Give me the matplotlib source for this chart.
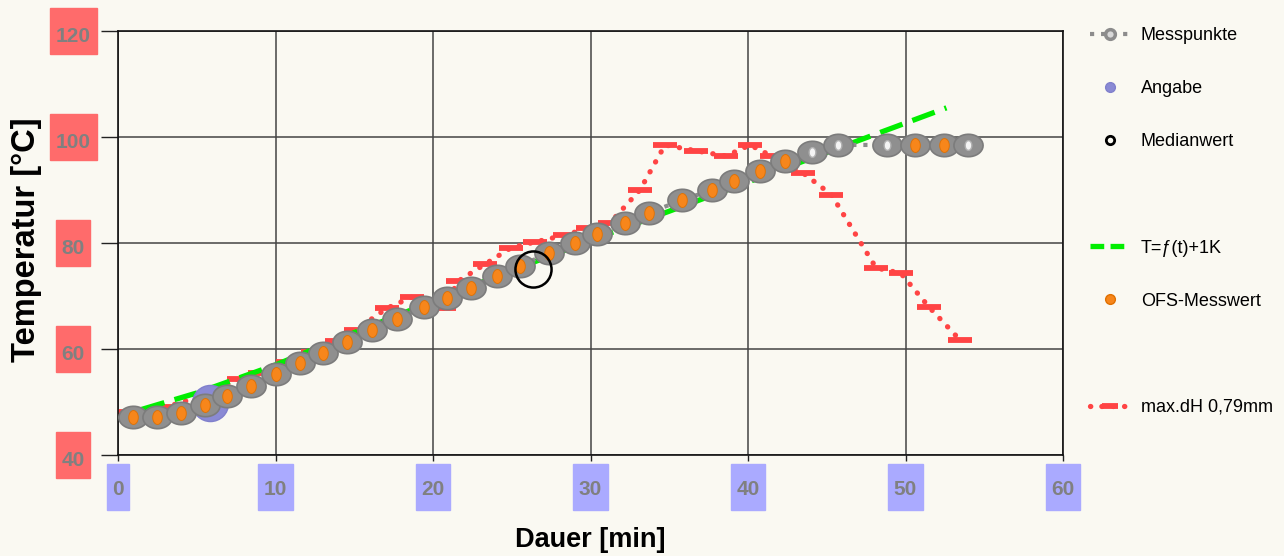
import matplotlib
matplotlib.use("Agg")
import matplotlib.pyplot as plt
from matplotlib.lines import Line2D
from matplotlib.patches import Rectangle
from matplotlib.path import Path
import numpy as np

plt.rcParams['font.family'] = ['Liberation Sans', 'DejaVu Sans']

# Messpunkte (Dauer [min], Temperatur [°C])
mess_x = [0.95, 2.48, 4.0, 5.52, 6.92, 8.44, 10.03, 11.56, 13.02, 14.54, 16.13,
          17.71, 19.43, 20.89, 22.41, 24.06, 25.52, 27.37, 29.02, 30.41, 32.19,
          33.71, 35.81, 37.71, 39.11, 40.76, 42.35, 44.06, 45.71, 48.83, 50.6,
          52.44, 53.97]
mess_y = [47.2, 47.2, 47.9, 49.4, 51.1, 53.0, 55.3, 57.4, 59.2, 61.3, 63.6,
          65.7, 67.9, 69.6, 71.5, 73.8, 75.7, 78.1, 80.0, 81.7, 83.8,
          85.7, 88.1, 90.0, 91.7, 93.6, 95.5, 97.2, 98.5, 98.5, 98.5,
          98.5, 98.5]

# OFS-Messwert (Messpunkte mit Messwert)
ofs_x = [0.95, 2.48, 4.0, 5.52, 6.92, 8.44, 10.03, 11.56, 13.02, 14.54, 16.13,
         17.71, 19.43, 20.89, 22.41, 24.06, 25.52, 27.37, 29.02, 30.41, 32.19,
         33.71, 35.81, 37.71, 39.11, 40.76, 42.35, 50.6, 52.44]
ofs_y = [47.2, 47.2, 47.9, 49.4, 51.1, 53.0, 55.3, 57.4, 59.2, 61.3, 63.6,
         65.7, 67.9, 69.6, 71.5, 73.8, 75.7, 78.1, 80.0, 81.7, 83.8,
         85.7, 88.1, 90.0, 91.7, 93.6, 95.5, 98.5, 98.5]

# Messpunkte ohne OFS-Wert
leer_x = [44.06, 45.71, 48.83, 53.97]
leer_y = [97.2, 98.5, 98.5, 98.5]

angabe_x = [5.84]
angabe_y = [49.8]

median_x = [26.35]
median_y = [75.1]

# T=f(t)+1K
soll_x = [1.5, 5, 10, 15, 20, 25, 30, 35, 40, 45, 52.6]
soll_y = [48.6, 51.7, 57.0, 63.1, 69.0, 74.8, 80.5, 86.0, 91.5, 97.1, 105.5]

# max.dH 0,79mm
dh_x = [0.76, 3.11, 5.52, 7.68, 9.02, 10.79, 12.38, 13.9, 15.11, 17.08, 18.67,
        20.7, 21.6, 23.3, 24.96, 26.5, 28.4, 29.84, 31.24, 33.14, 34.73, 36.7,
        38.6, 40.13, 41.5, 43.5, 45.3, 48.13, 49.7, 51.5, 53.46]
dh_y = [48.1, 49.1, 51.3, 54.3, 55.5, 57.5, 59.4, 61.5, 63.6, 67.7, 69.8,
        67.7, 72.8, 76.0, 79.1, 80.2, 81.5, 82.8, 83.8, 90.0, 98.5, 97.4,
        96.4, 98.5, 96.4, 93.2, 89.1, 75.3, 74.3, 67.9, 61.7]

x_ticks = [0, 10, 20, 30, 40, 50, 60]
y_ticks = [40, 60, 80, 100, 120]

bg = '#faf9f2'
W, H = 1284, 556

# ellipsen als marker
t = np.linspace(0, 2 * np.pi, 40)
ell_wide = Path(np.column_stack([1.3 * np.cos(t), np.sin(t)]), closed=True)
ell_tall = Path(np.column_stack([np.cos(t), 1.45 * np.sin(t)]), closed=True)

fig = plt.figure(figsize=(W / 100, H / 100), dpi=100, facecolor=bg)
ax = fig.add_axes([118 / W, (H - 455) / H, (1063 - 118) / W, (455 - 31) / H])
ax.set_facecolor(bg)
ax.set_xlim(0, 60)
ax.set_ylim(40, 120)

red_dots = dict(color='#ff4444', lw=3.8, dashes=(0.05, 2.1), dash_capstyle='round')
ax.plot(dh_x, dh_y, marker='_', ms=17, mew=4.2, zorder=2, **red_dots)
ax.plot(soll_x, soll_y, color='#00ee00', lw=3.8, dashes=(4.5, 2.0), zorder=3)
ax.plot(angabe_x, angabe_y, 'o', ms=26, mfc='#8a8ad4', mec='#8080cc', zorder=4)
ax.plot(mess_x, mess_y, color='#8c8c8c', lw=3, ls=':', zorder=5)
ax.plot(mess_x, mess_y, ls='none', marker=ell_wide, ms=21, mfc='#8f8f8f',
        mec='#7c7c7c', mew=1.2, zorder=6)
ax.plot(leer_x, leer_y, ls='none', marker=ell_tall, ms=7, mfc='#f4f4f4',
        mec='#b0b0b0', mew=1, zorder=7)
ax.plot(ofs_x, ofs_y, ls='none', marker=ell_tall, ms=10, mfc='#f7861b',
        mec='#e07000', mew=0.6, zorder=7)
ax.plot(median_x, median_y, 'o', ms=26, mfc='none', mec='black', mew=1.8, zorder=8)

ax.set_xticks(x_ticks)
ax.set_yticks(y_ticks)
ax.set_xticklabels([])
ax.set_yticklabels([])
ax.tick_params(axis='y', length=12, width=1, color='#222222')
ax.tick_params(axis='x', length=4, width=1, color='#222222')
ax.grid(True, color='#444444', lw=1.1)
for s in ax.spines.values():
    s.set_color('#111111')
    s.set_linewidth(1.2)

# Achsenbeschriftungen in farbigen Kästchen
lab_font = dict(fontsize=15, fontweight='bold', color='#808080')
for v in y_ticks:
    _, yd = ax.transData.transform((0, v))
    w = 9.5 + 12.5 * len(str(v))
    fig.add_artist(Rectangle(((73 - w / 2) / W, (yd - 23) / H), w / W, 46 / H,
                             transform=fig.transFigure, color='#ff6b6b', zorder=1))
    fig.text(73 / W, (yd - 11) / H, str(v), ha='center', va='baseline', **lab_font)
for v in x_ticks:
    xd, _ = ax.transData.transform((v, 40))
    w = 9.5 + 12.5 * len(str(v))
    fig.add_artist(Rectangle(((xd - w / 2) / W, (H - 510) / H), w / W, 46 / H,
                             transform=fig.transFigure, color='#aaaaff', zorder=1))
    fig.text(xd / W, (H - 495) / H, str(v), ha='center', va='baseline', **lab_font)

fig.text(27 / W, (H - 240) / H, 'Temperatur [°C]', rotation=90, ha='center',
         va='center', fontsize=23.5, fontweight='bold')
fig.text(590 / W, (H - 540) / H, 'Dauer [min]', ha='center', va='center',
         fontsize=19.5, fontweight='bold')

blank = Line2D([], [], color='none')
handles = [
    Line2D([], [], color='#8c8c8c', lw=3, ls=':', marker='o', ms=7, mfc='#d8d8d8',
           mec='#8c8c8c', mew=2.5),
    Line2D([], [], ls='none', marker='o', ms=7, mfc='#8a8ad4', mec='#8080cc'),
    Line2D([], [], ls='none', marker='o', ms=6, mfc='none', mec='black', mew=2),
    blank,
    Line2D([], [], color='#00ee00', lw=3.8, dashes=(2.6, 1.2)),
    Line2D([], [], ls='none', marker='o', ms=7, mfc='#f7861b', mec='#e07000'),
    blank,
    Line2D([], [], marker='_', ms=12, mew=4.2, **red_dots),
]
labels = ['Messpunkte', 'Angabe', 'Medianwert', ' ', 'T=ƒ(t)+1K', 'OFS-Messwert',
          ' ', 'max.dH 0,79mm']
fig.legend(handles, labels, loc='upper left', bbox_to_anchor=(1083 / W, (H - 20) / H),
           frameon=False, fontsize=13, handlelength=2.2, handletextpad=0.6,
           labelspacing=2.0, borderaxespad=0)

fig.savefig('out.png', dpi=100, facecolor=bg)
